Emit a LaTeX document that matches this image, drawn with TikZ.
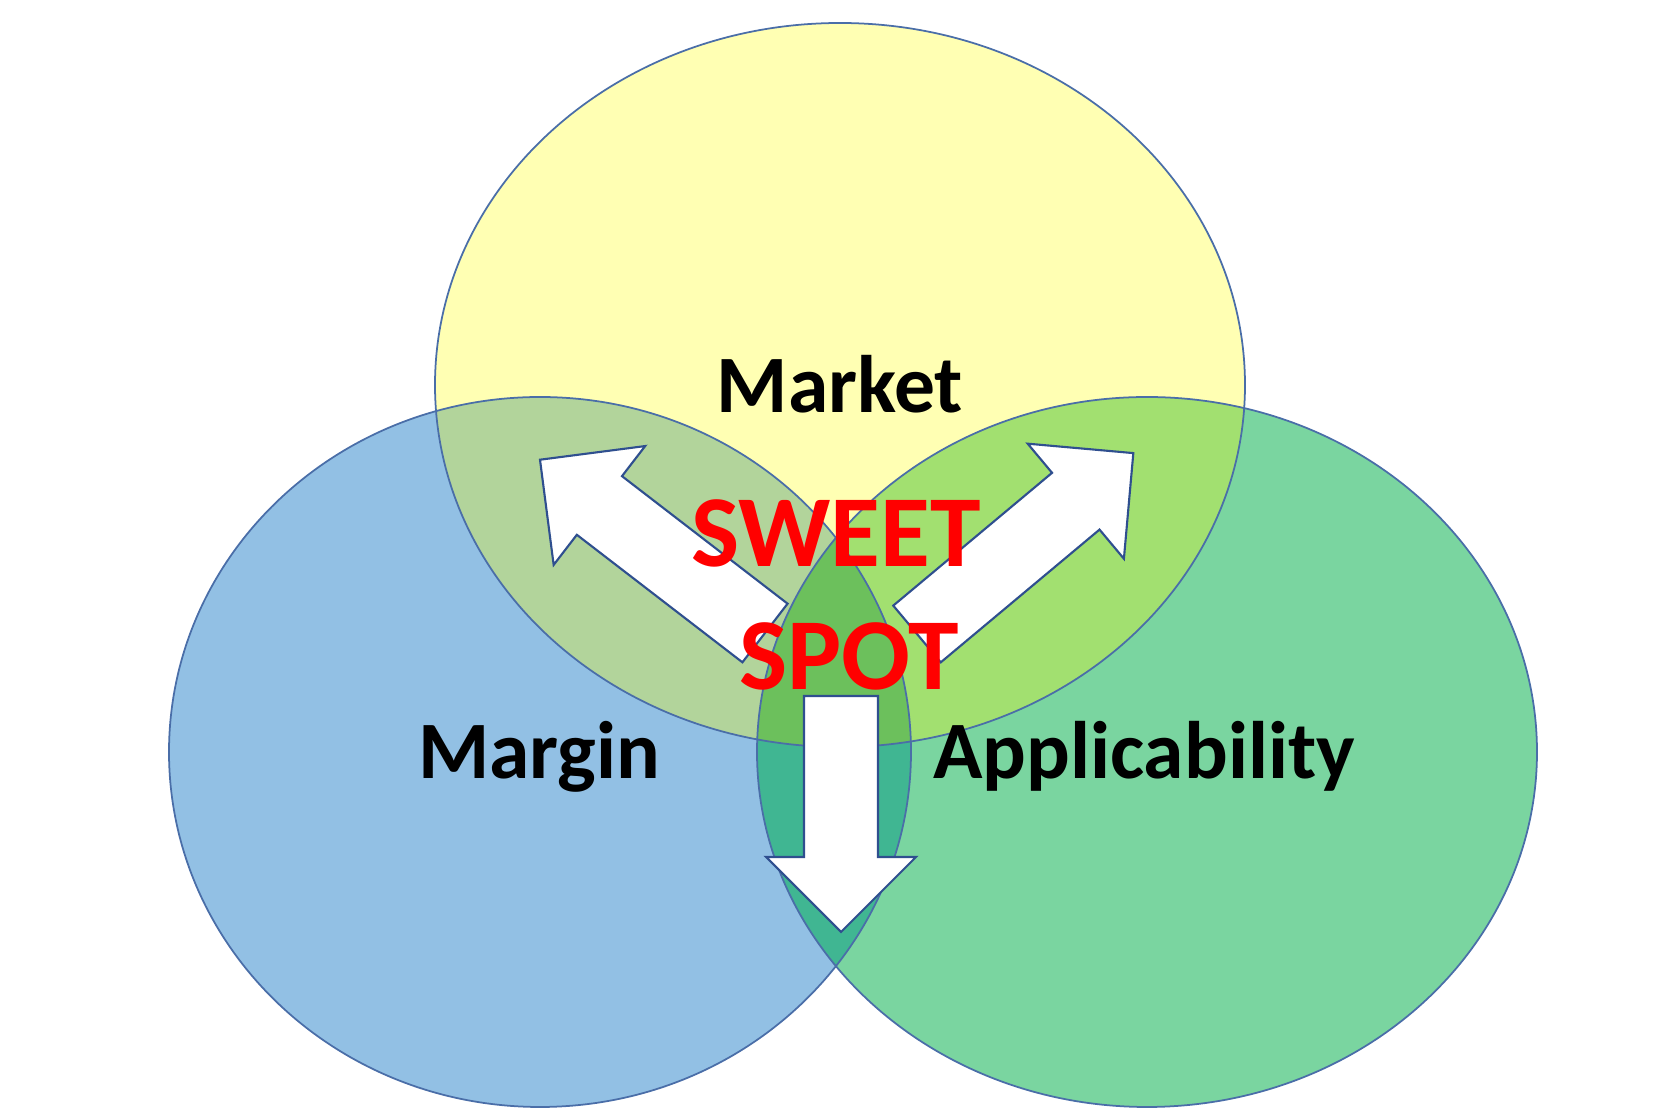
\documentclass[tikz,border=0pt]{standalone}
\usepackage{fontspec}
\setmainfont{Carlito}
\usepackage{xcolor}
\usetikzlibrary{positioning}

\definecolor{mktyellow}{HTML}{FFFFB3}
\definecolor{mgnblue}{HTML}{92C0E4}
\definecolor{appgreen}{HTML}{7AD5A0}
\definecolor{yellowblue}{HTML}{B2D49B}
\definecolor{yellowgreen}{HTML}{A2E070}
\definecolor{bluegreen}{HTML}{40B692}
\definecolor{sweetgreen}{HTML}{6CC05C}
\definecolor{ringline}{HTML}{4A6EA8}
\definecolor{arrowline}{HTML}{2F4F8F}

% the three sets
\newcommand{\marketpath}{(840,385) ellipse [x radius=405, y radius=362]}
\newcommand{\marginpath}{(540,752) ellipse [x radius=371, y radius=355]}
\newcommand{\applpath}{(1147,752) ellipse [x radius=390, y radius=355]}

\begin{document}
\begin{tikzpicture}[x=0.1mm, y=-0.1mm,
  ring/.style={draw=ringline, line width=0.5pt},
  circlabel/.style={font=\bfseries\fontsize{23.2}{23.2}\selectfont, text=black, inner sep=0pt, anchor=base},
  sweet/.style={font=\bfseries\fontsize{29}{29}\selectfont, text=red, inner sep=0pt, anchor=base},
  blockarrow/.style={fill=white, draw=arrowline, line width=0.6pt, line join=miter}]
\useasboundingbox (0,0) rectangle (1680,1120);

% plain fills
\fill[mgnblue] \marginpath;
\fill[appgreen] \applpath;
\fill[mktyellow] \marketpath;

% overlaps
\begin{scope}
  \clip \marginpath;
  \fill[yellowblue] \marketpath;
\end{scope}
\begin{scope}
  \clip \applpath;
  \fill[yellowgreen] \marketpath;
\end{scope}
\begin{scope}
  \clip \marginpath;
  \fill[bluegreen] \applpath;
  \clip \applpath;
  \fill[sweetgreen] \marketpath;
\end{scope}

% outlines
\draw[ring] \marginpath;
\draw[ring] \applpath;
\draw[ring] \marketpath;

% block arrows: tail x/y, angle, length
\foreach \tx/\ty/\ang/\len in {765/633/142.4/284, 917/634/39.9/282, 841/696/-90/236} {
  \draw[blockarrow, shift={(\tx,\ty)}, rotate=\ang]
    (0,-37) -- ({\len-75},-37) -- ({\len-75},-75) -- (\len,0)
    -- ({\len-75},75) -- ({\len-75},37) -- (0,37) -- cycle;
}

% texts
\node[circlabel] (market) at (840,413) {Market};
\node[circlabel] (margin) at (539,779) {Margin};
\node[circlabel] (applic) at (1144,779) {Applicability};
\node[sweet] (sweet) at (836,567) {SWEET};
\node[sweet] (spot) at (849,690) {SPOT};
\end{tikzpicture}
\end{document}
